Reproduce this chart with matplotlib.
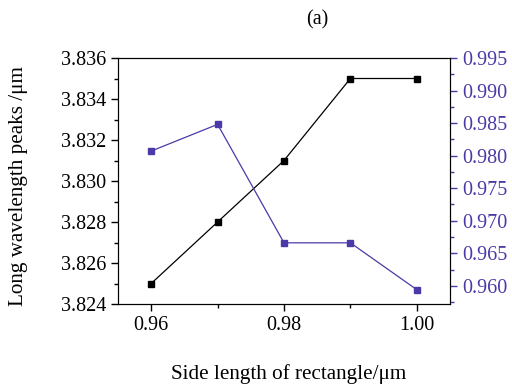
import matplotlib
matplotlib.use('Agg')
import matplotlib.pyplot as plt
from matplotlib.ticker import MultipleLocator, AutoMinorLocator

# Dados
side_length = [0.96, 0.97, 0.98, 0.99, 1.00]
long_peaks = [3.825, 3.828, 3.831, 3.835, 3.835]
right_vals = [0.9807, 0.9848, 0.9666, 0.9666, 0.9594]

blue = '#4a3aa8'
plt.rcParams['font.family'] = ['Liberation Serif', 'DejaVu Serif']
plt.rcParams['font.size'] = 14.5

fig = plt.figure(figsize=(5.12, 3.9), dpi=100)
ax = fig.add_axes([118 / 512, 86 / 390, 332 / 512, 246 / 390])

ax.plot(side_length, long_peaks, color='black', lw=0.9, marker='s', ms=3.8)
ax.set_xlim(0.955, 1.005)
ax.set_ylim(3.824, 3.836)
ax.xaxis.set_major_locator(MultipleLocator(0.02))
ax.xaxis.set_minor_locator(AutoMinorLocator(2))
ax.yaxis.set_major_locator(MultipleLocator(0.002))
ax.yaxis.set_minor_locator(AutoMinorLocator(2))
ax.xaxis.set_major_formatter(plt.FormatStrFormatter('%.2f'))
ax.yaxis.set_major_formatter(plt.FormatStrFormatter('%.3f'))
ax.tick_params(which='both', direction='out', top=False, right=False)
ax.tick_params(which='major', length=5, width=1)
ax.tick_params(which='minor', length=3, width=1)
ax.set_xlabel('Side length of rectangle/μm', fontsize=15.2)
ax.set_ylabel('Long wavelength peaks /μm', fontsize=15.2)
ax.xaxis.set_label_coords(0.515, -0.245)
ax.yaxis.set_label_coords(-0.27, 0.48)

# segundo eixo
ax2 = ax.twinx()
ax2.plot(side_length, right_vals, color=blue, lw=0.9, marker='s', ms=3.8)
ax2.set_ylim(0.9572, 0.995)
ax2.yaxis.set_major_locator(MultipleLocator(0.005))
ax2.yaxis.set_minor_locator(AutoMinorLocator(2))
ax2.yaxis.set_major_formatter(plt.FormatStrFormatter('%.3f'))
ax2.tick_params(axis='y', which='both', direction='out', colors=blue, labelcolor=blue)
ax2.tick_params(axis='y', which='major', length=5, width=1)
ax2.tick_params(axis='y', which='minor', length=3, width=1)

fig.text(317 / 512, 1 - 20 / 390, '(a)', ha='center', va='center', fontsize=14.5)

fig.savefig('out.png', dpi=100)
